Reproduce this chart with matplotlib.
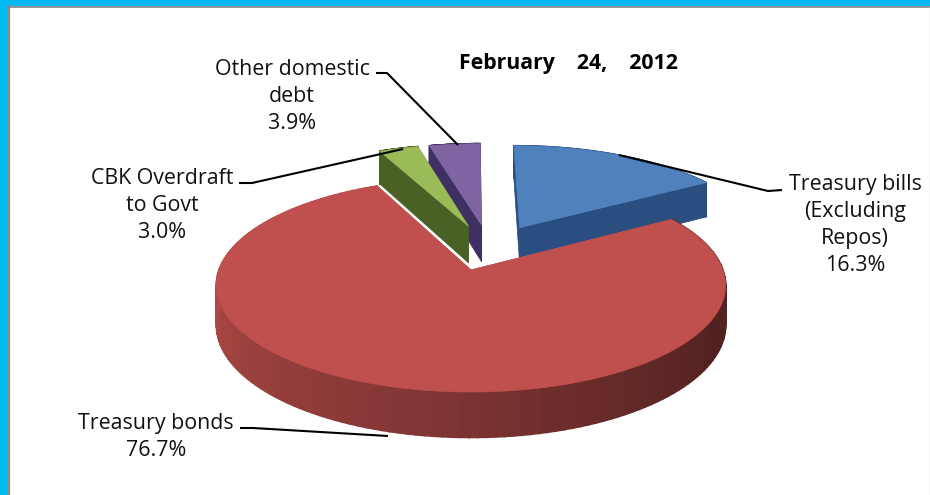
import numpy as np
import matplotlib
matplotlib.use("Agg")
import matplotlib.pyplot as plt
from matplotlib.patches import Polygon, Rectangle
from matplotlib.colors import to_rgb

# Composition of domestic debt (percent)
labels = ["Treasury bills\n(Excluding\nRepos)", "Treasury bonds",
          "CBK Overdraft\nto Govt", "Other domestic\ndebt"]
shares = [16.3, 76.7, 3.0, 3.9]
title = "February    24,    2012"

top_colors = ["#4F81BD", "#C0504D", "#9BBB59", "#8064A2"]
side_colors = ["#2A4E80", "#C0504D", "#4A6126", "#3F2F63"]

# Projection of the pie plane onto the page
CX, CY = 471, 270
RX, RY = 252, 104.6
PERSP = 0.1426
DEPTH = 39
EXPLODE_X = 0.262
EXPLODE_Y = 0.235
KEY = 1  # the slice whose apex sits at (CX, CY)

plt.rcParams["font.family"] = ["Open Sans", "DejaVu Sans"]
fig = plt.figure(figsize=(9.3, 4.95), dpi=100, facecolor="#00B9F2")
ax = fig.add_axes([0, 0, 1, 1])
ax.set_xlim(0, 930)
ax.set_ylim(495, 0)
ax.axis("off")

# Page frame
ax.add_patch(Rectangle((8, 6), 930, 500, fc="white", ec="none", zorder=0))
ax.plot([9, 9], [6, 495], color="#8A8A8A", lw=1.6, zorder=1)
ax.plot([8, 930], [7, 7], color="#808080", lw=1.2, zorder=1)
ax.plot([929.5, 929.5], [7, 495], color="#D8D8D8", lw=1, zorder=1)


def project(x, y):
    w = 1 + PERSP * y
    return CX + RX * x / w, CY - RY * y / w, w


def shade(theta):
    return np.interp(theta, [58, 115, 165, 190, 225, 270, 335],
                     [.42, .42, .58, .68, .78, .92, .92])


fractions = np.array(shares) / np.sum(shares)
edges = np.concatenate([[0], np.cumsum(fractions)]) * 360
mids = np.radians((edges[:-1] + edges[1:]) / 2)
ox = EXPLODE_X * (np.sin(mids) - np.sin(mids[KEY]))
oy = EXPLODE_Y * (np.cos(mids) - np.cos(mids[KEY]))

z = 2
# Painted back to front so that the large slice overlaps the others
for i in [3, 2, 0, 1]:
    th = np.linspace(edges[i], edges[i + 1], 160)
    xs, ys, ws = project(ox[i] + np.sin(np.radians(th)), oy[i] + np.cos(np.radians(th)))
    ax_, ay_, aw_ = project(ox[i], oy[i])
    drop = DEPTH / ws
    adrop = DEPTH / aw_
    side = np.array(to_rgb(side_colors[i]))

    # radial walls
    for k in (0, -1):
        ax.add_patch(Polygon([(ax_, ay_), (xs[k], ys[k]), (xs[k], ys[k] + drop[k]),
                              (ax_, ay_ + adrop)], fc=side, ec=side, lw=.5, zorder=z))
    # outer rim, shaded by angle on the large slice
    for j in range(len(th) - 1):
        col = side * shade(th[j]) if i == KEY else side
        ax.add_patch(Polygon([(xs[j], ys[j]), (xs[j + 1], ys[j + 1]),
                              (xs[j + 1], ys[j + 1] + drop[j + 1]), (xs[j], ys[j] + drop[j])],
                             fc=col, ec=col, lw=1.2, zorder=z))
    # top face
    ax.add_patch(Polygon(np.column_stack([np.r_[ax_, xs], np.r_[ay_, ys]]),
                         fc=top_colors[i], ec=top_colors[i], lw=.5, zorder=z + .5))
    z += 1

# Leader lines
leaders = [[(619, 155), (768, 191), (782, 190)],
           [(240, 428), (253, 428), (388, 436)],
           [(239, 183), (252, 183), (403, 149)],
           [(376, 73), (387, 73), (458, 145)]]
for pts in leaders:
    p = np.array(pts)
    ax.plot(p[:, 0], p[:, 1], color="black", lw=1.5, zorder=20, solid_capstyle="butt")

# Category labels with their percentages
anchors = [(855, 184.5), (156, 423.5), (162, 178.5), (292, 69.5)]
FS = 15.4
LINE = 27
for lab, val, (tx, ty) in zip(labels, shares, anchors):
    for n, line in enumerate((lab + f"\n{val:.1f}%").split("\n")):
        ax.text(tx, ty + n * LINE, line, ha="center", va="center", fontsize=FS,
                color="#111111", zorder=21)

ax.text(568, 63, title, ha="center", va="center", fontsize=15.3,
        fontweight="bold", color="black", zorder=21)

fig.savefig("out.png", dpi=100, facecolor=fig.get_facecolor())
